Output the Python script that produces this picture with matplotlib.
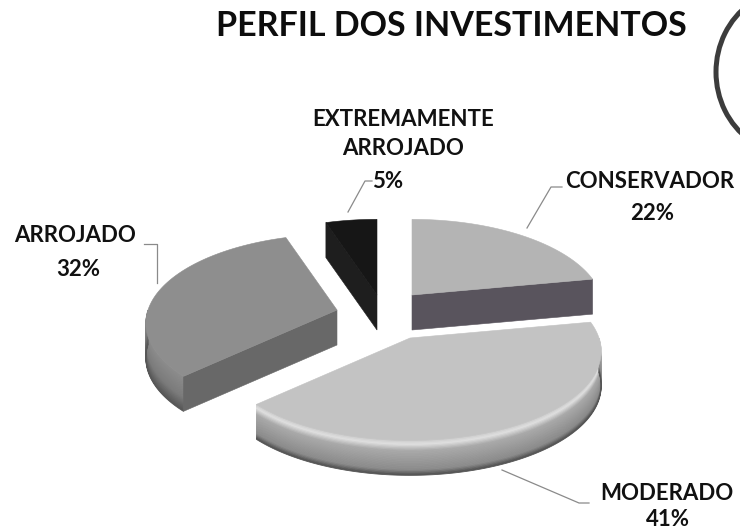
import numpy as np
import matplotlib.pyplot as plt
from matplotlib.colors import to_rgb
from matplotlib.patches import Polygon, Arc

# investment profile shares (clockwise from 12 o'clock)
categories = ["CONSERVADOR", "MODERADO", "ARROJADO", "EXTREMAMENTE\nARROJADO"]
shares = [22, 41, 32, 5]
pct_labels = ["22%", "41%", "32%", "5%"]

title = "PERFIL DOS INVESTIMENTOS"

# pie geometry in pixel units
cx, cy = 385, 312
rx, ry = 189, 87
persp = 0.15          # near edge drawn larger than far edge
depth = 35
explode = [(27, -17), (25, 26), (-48, -2), (-8, -17)]

top_col = ["#b4b4b4", "#c3c3c3", "#8e8e8e", "#161616"]
cut_col = ["#59545d", "#6e6e6e", "#686868", "#1e1e1e"]
# rim gradient stops (fraction of depth, colour)
rim_grad = [
    [(0, "#a8a8a8"), (1, "#7a7a7a")],
    [(0, "#c8c8c8"), (0.12, "#e0e0e0"), (0.3, "#a9a9a9"), (0.85, "#8a8a8a"), (1, "#4e4e4e")],
    [(0, "#8c8c8c"), (0.6, "#7c7c7c"), (1, "#555555")],
    [(0, "#262626"), (1, "#111111")],
]


def proj(ox, oy, th, h=0.0):
    th = np.radians(th)
    s = np.sin(th)
    k = 1.0 / (1.0 + persp * s)
    return ox + rx * k * np.cos(th), oy - ry * k * s + h


def visible(normal):
    return np.sin(np.radians(normal)) < -1e-6


def grad_color(stops, f):
    fs = [p[0] for p in stops]
    cs = np.array([to_rgb(p[1]) for p in stops])
    return np.array([np.interp(f, fs, cs[:, j]) for j in range(3)])


fig = plt.figure(figsize=(7.4, 5.28), dpi=100)
ax = fig.add_axes([0, 0, 1, 1])
ax.set_xlim(0, 740)
ax.set_ylim(528, 0)
ax.axis("off")

bounds = 90 - 3.6 * np.concatenate([[0], np.cumsum(shares)])
order = [0, 3, 2, 1]  # far slices first

for i in order:
    a0, a1 = bounds[i], bounds[i + 1]
    ox, oy = cx + explode[i][0], cy + explode[i][1]
    th = np.linspace(a0, a1, 150)

    # curved outer wall, only the front half shows
    ks = np.arange(np.ceil(a1 / 180), np.floor(a0 / 180) + 1) * 180
    tw = np.sort(np.concatenate([th, ks]))[::-1]
    tw = tw[np.sin(np.radians(tw)) <= 1e-9]
    if len(tw) > 1:
        nb = 28
        for b in range(nb):
            f0, f1 = b / nb, (b + 1) / nb
            xa, ya = proj(ox, oy, tw, h=f0 * depth)
            xb, yb = proj(ox, oy, tw, h=f1 * depth)
            col = grad_color(rim_grad[i], (f0 + f1) / 2)
            pts = np.column_stack([np.r_[xa, xb[::-1]], np.r_[ya, yb[::-1]]])
            ax.add_patch(Polygon(pts, closed=True, fc=col, ec=col, lw=0.6))

    # flat cut faces
    for ang, nrm in ((a0, a0 + 90), (a1, a1 - 90)):
        if visible(nrm):
            px, py = proj(ox, oy, ang)
            pts = [(ox, oy), (px, py), (px, py + depth), (ox, oy + depth)]
            ax.add_patch(Polygon(pts, closed=True, fc=cut_col[i],
                                 ec=cut_col[i], lw=0.4))

    # top face
    xs, ys = proj(ox, oy, th)
    pts = np.column_stack([np.r_[ox, xs], np.r_[oy, ys]])
    ax.add_patch(Polygon(pts, closed=True, fc=top_col[i], ec=top_col[i], lw=0.4))

fnt = "Lato"
lab_kw = dict(fontsize=16, fontweight="bold", family=fnt, ha="center",
              va="center", color="#111111", linespacing=1.45)

ax.text(451, 26, title, fontsize=24.5, fontweight="bold", family=fnt,
        ha="center", va="center", color="#0d0d0d")

# slice labels with leader lines
ax.text(650, 181, categories[0], **lab_kw)
ax.text(652, 213, pct_labels[0], **lab_kw)
ax.plot([562, 551, 527], [187, 187, 228], color="#8a8a8a", lw=0.9)

ax.text(667, 493, categories[1], **lab_kw)
ax.text(668, 519, pct_labels[1], **lab_kw)
ax.plot([589, 579, 502], [503, 503, 470], color="#8a8a8a", lw=0.9)

ax.text(75, 236, categories[2], **lab_kw)
ax.text(78, 270, pct_labels[2], **lab_kw)
ax.plot([144, 157, 157], [244, 244, 283], color="#8a8a8a", lw=0.9)

ax.text(403, 134, categories[3], **lab_kw)
ax.text(388, 181, pct_labels[3], **lab_kw)
ax.plot([372, 365, 348], [181, 181, 212], color="#8a8a8a", lw=0.9)

# pen stroke at the top right corner
ax.add_patch(Arc((792, 72), 152, 164, theta1=122, theta2=238,
                 color="#3c3c3c", lw=3.6))

fig.savefig("out.png", dpi=100)
